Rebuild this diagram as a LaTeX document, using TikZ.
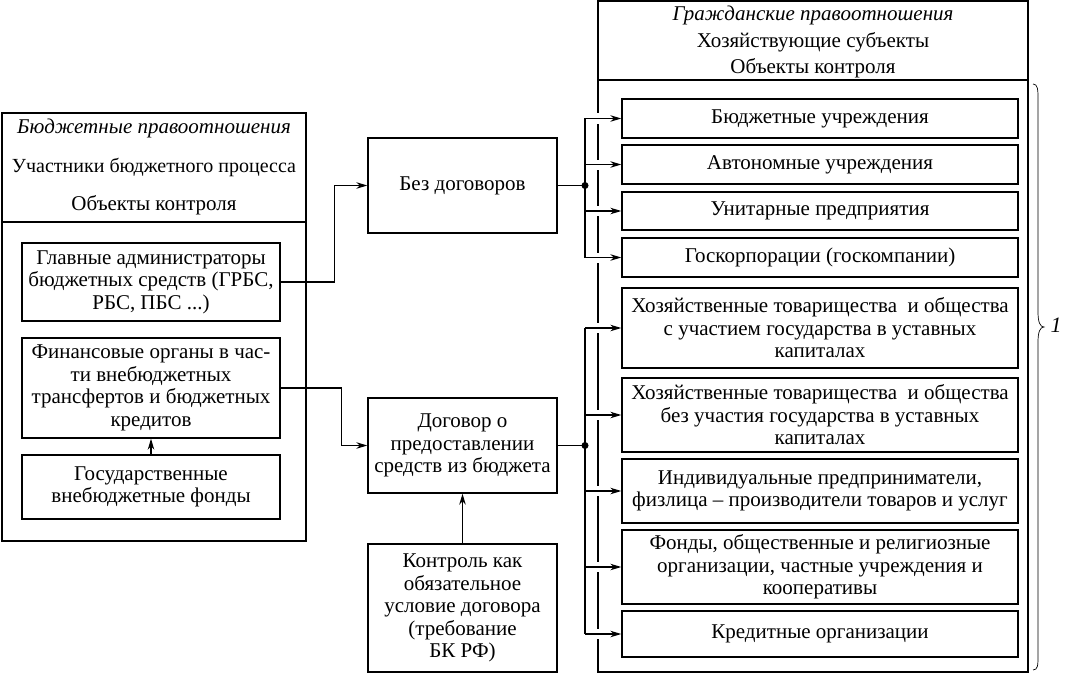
\documentclass[tikz,border=0pt]{standalone}
\usepackage{fontspec}
\setmainfont{Liberation Serif}
\usetikzlibrary{arrows.meta,calc}
\begin{document}
\begin{tikzpicture}[x=1pt,y=-1pt,
  every node/.style={font=\fontsize{21}{22.5}\selectfont, inner sep=0pt},
  box/.style={draw, line width=1.4pt, align=center, minimum width=#1},
  box/.default=258pt,
  frame/.style={draw, line width=1.6pt},
  arr/.style={line width=1.2pt, -{Stealth[length=11pt,width=6.5pt]}},
  ln/.style={line width=1.2pt},
  dot/.style={circle, fill, inner sep=0pt, minimum size=7pt},
  txt/.style={align=center}
]
\useasboundingbox (0,0) rectangle (1075,674);

% left outer frame
\draw[frame] (2,113) rectangle (306,541);
\draw[frame] (2,222) -- (306,222);
\node[txt] (lh1) at (154,128) {\itshape Бюджетные правоотношения};
\node[txt, font=\fontsize{20}{22}\selectfont] (lh2) at (154,167) {Участники бюджетного процесса};
\node[txt] (lh3) at (154,205) {Объекты контроля};

\node[box, minimum height=78pt] (grbs) at (151,282) {Главные администраторы\\бюджетных средств (ГРБС,\\РБС, ПБС ...)};
\node[box, minimum height=100pt] (fin) at (151,388) {Финансовые органы в час-\\ти внебюджетных\\трансфертов и бюджетных\\кредитов};
\node[box, minimum height=64pt] (fund) at (151,487) {Государственные\\внебюджетные фонды};

% middle
\node[box=189pt, minimum height=95pt] (bez) at (462.5,185.5) {Без договоров};
\node[box=189pt, minimum height=95pt] (dog) at (462.5,445.5) {Договор о\\предоставлении\\средств из бюджета};
\node[box=189pt, minimum height=128pt] (ctrl) at (462.5,608) {Контроль как\\обязательное\\условие договора\\(требование\\БК РФ)};

% right outer frame
\draw[frame] (598,1) rectangle (1028,672);
\draw[frame] (598,80) -- (1028,80);
\node[txt] (rh1) at (813,15) {\itshape Гражданские правоотношения};
\node[txt] (rh2) at (813,42) {Хозяйствующие субъекты};
\node[txt] (rh3) at (813,68) {Объекты контроля};

\node[box=396pt, minimum height=39pt] (r1) at (820,118.5) {Бюджетные учреждения};
\node[box=396pt, minimum height=39pt] (r2) at (820,164.5) {Автономные учреждения};
\node[box=396pt, minimum height=38pt] (r3) at (820,211) {Унитарные предприятия};
\node[box=396pt, minimum height=39pt] (r4) at (820,257.5) {Госкорпорации (госкомпании)};
\node[box=396pt, minimum height=80pt] (r5) at (820,328) {Хозяйственные товарищества\ \ и общества\\с участием государства в уставных\\капиталах};
\node[box=396pt, minimum height=74pt] (r6) at (820,415) {Хозяйственные товарищества\ \ и общества\\без участия государства в уставных\\капиталах};
\node[box=396pt, minimum height=64pt] (r7) at (820,491) {Индивидуальные предприниматели,\\физлица -- производители товаров и услуг};
\node[box=396pt, minimum height=74pt] (r8) at (820,567) {Фонды, общественные и религиозные\\организации, частные учреждения и\\кооперативы};
\node[box=396pt, minimum height=46pt] (r9) at (820,634) {Кредитные организации};

% gaps in the right frame's left edge
\foreach \n in {r1,r2,r3,r4,r5,r6,r7,r8,r9}{
  \path (\n.west) coordinate (w);
  \draw[white, line width=4pt] let \p1=(w) in (598,\y1-5) -- (598,\y1+5);
}

% connectors from left
\draw[arr] (grbs.east) -- ++(54,0) |- (bez.west);
\draw[arr] (fin.east) -- ++(61,0) |- (dog.west);
\draw[arr] (fund.north) -- (fin.south);
\draw[arr] (ctrl.north) -- (dog.south);

% upper bus
\coordinate (b1) at (585,185.5);
\draw[ln] (bez.east) -- (b1);
\node[dot] (d1) at (b1) {};
\draw[ln] (r1.west -| b1) -- (r4.west -| b1);
\foreach \n in {r1,r2,r3,r4}{ \draw[arr] (\n.west -| b1) -- (\n.west); }

% lower bus
\coordinate (b2) at (585,445.5);
\draw[ln] (dog.east) -- (b2);
\node[dot] (d2) at (b2) {};
\draw[ln] (r5.west -| b2) -- (r9.west -| b2);
\foreach \n in {r5,r6,r7,r8,r9}{ \draw[arr] (\n.west -| b2) -- (\n.west); }

% brace
\draw[line width=0.7pt] (1033,84) .. controls (1038,84) and (1038,90) .. (1038,100)
  -- (1038,312) .. controls (1038,322) and (1040,327) .. (1044,327)
  .. controls (1040,327) and (1038,332) .. (1038,342)
  -- (1038,655) .. controls (1038,665) and (1038,670) .. (1033,670);
\node[font=\fontsize{22}{24}\selectfont\itshape] (one) at (1056,325) {1};
\end{tikzpicture}
\end{document}
